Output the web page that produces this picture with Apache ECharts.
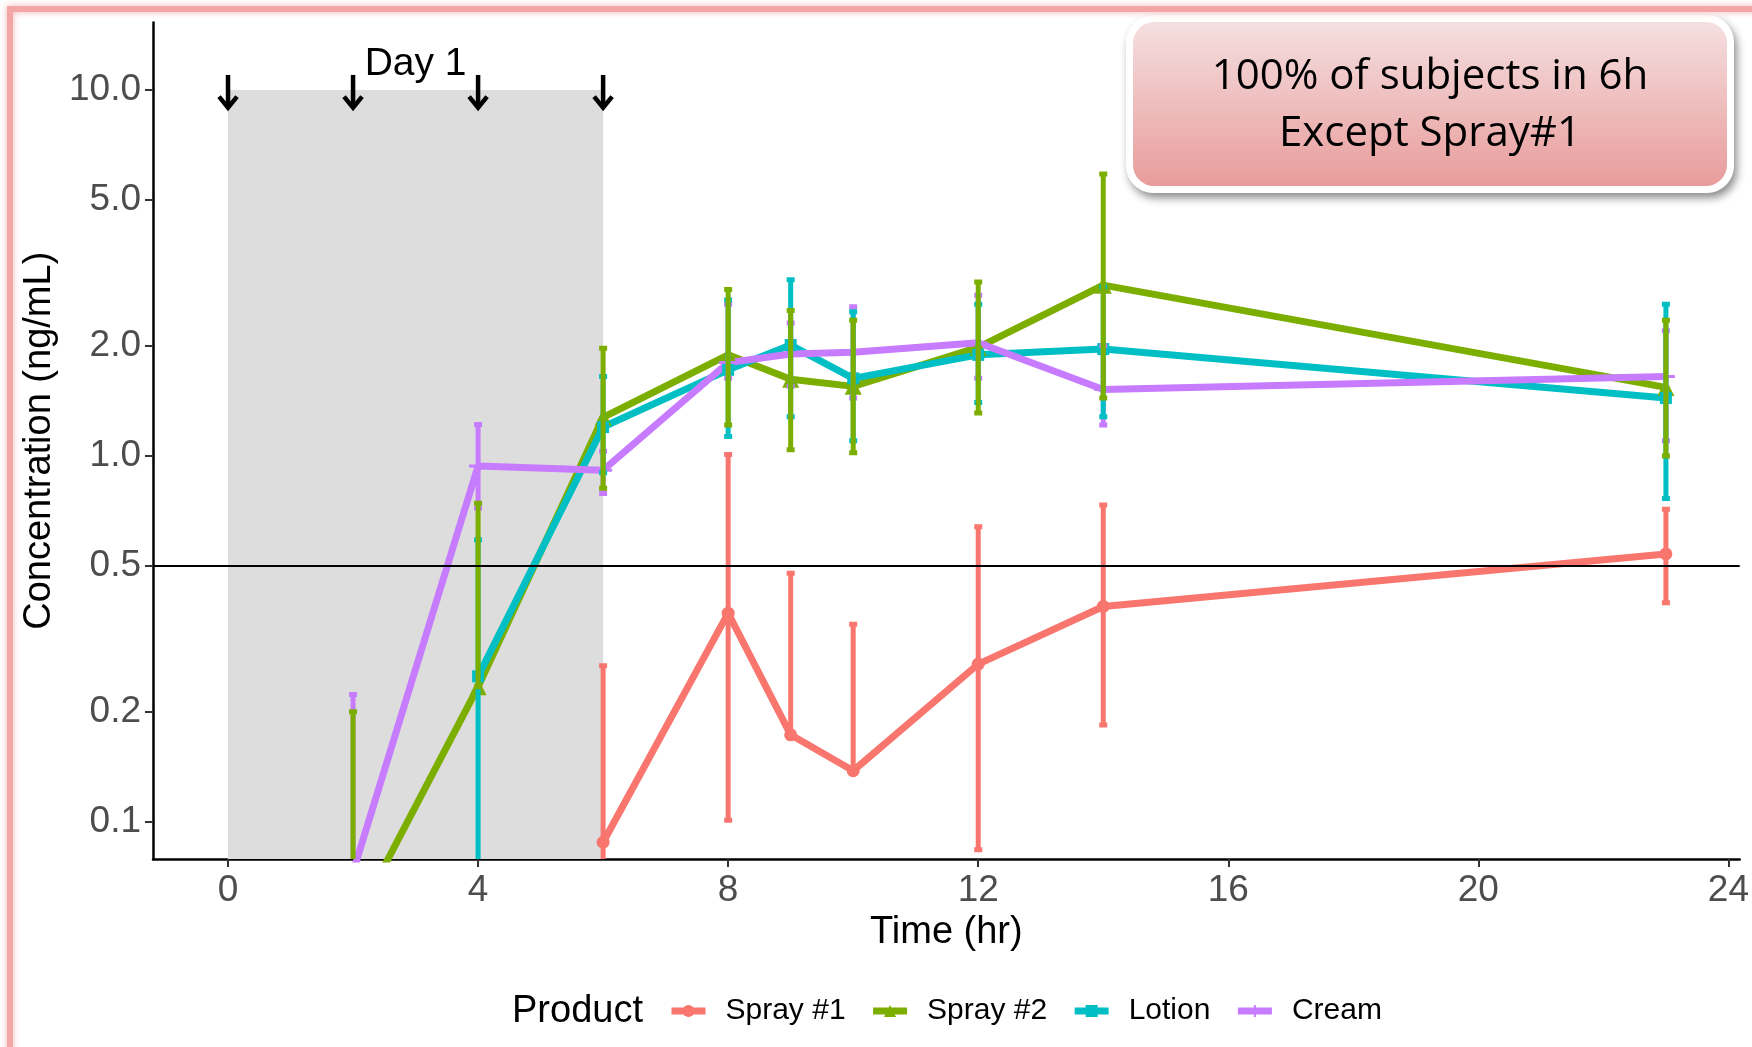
<!DOCTYPE html>
<html>
<head>
<meta charset="utf-8">
<script src="https://cdn.jsdelivr.net/npm/echarts@6/dist/echarts.min.js"></script>
<style>
  html, body { margin: 0; padding: 0; background: #ffffff; }
  #chart { width: 1752px; height: 1047px; }
</style>
</head>
<body>
<div id="chart"></div>
<script>
// Sampling times (hr)
const times = [2, 4, 6, 8, 9, 10, 12, 14, 23];

// Mean concentration (ng/mL) per product; null = not measured / not shown
const spray1Mean = [null, null, 0.088, 0.372, 0.173, 0.138, 0.27, 0.388, 0.54];
const spray2Mean = [0.052, 0.234, 1.276, 1.89, 1.62, 1.55, 1.98, 2.93, 1.54];
const lotionMean = [null, 0.25, 1.2, 1.72, 2.01, 1.63, 1.89, 1.96, 1.44];
const creamMean  = [0.073, 0.939, 0.915, 1.80, 1.90, 1.92, 2.04, 1.52, 1.65];

// Error bar limits (ng/mL); a null lower limit means the bar starts at the mean
const spray1Low  = [null, null, 0.04, 0.101, null, null, 0.084, 0.184, 0.397];
const spray1High = [null, null, 0.267, 1.01, 0.478, 0.347, 0.641, 0.735, 0.715];
const spray2Low  = [0.04, null, 0.816, 1.215, 1.04, 1.02, 1.31, 1.44, 1.0];
const spray2High = [0.2, 0.743, 1.97, 2.85, 2.5, 2.35, 2.99, 5.9, 2.35];
const lotionLow  = [null, 0.04, 0.9, 1.13, 1.28, 1.1, 1.4, 1.28, 0.766];
const lotionHigh = [null, 0.59, 1.65, 2.67, 3.03, 2.48, 2.6, 2.9, 2.6];
const creamLow   = [0.04, 0.72, 0.79, 1.63, 1.55, 1.44, 1.63, 1.215, 1.1];
const creamHigh  = [0.223, 1.22, 1.03, 2.6, 2.31, 2.56, 2.75, 2.0, 2.2];

// Axis ticks
const xTicks = [0, 4, 8, 12, 16, 20, 24];
const yTicks = [0.1, 0.2, 0.5, 1, 2, 5, 10];

// Reference level and dosing annotations
const refLevel = 0.5;
const dosingTimes = [0, 2, 4, 6];
const arrowFrom = 11.0;
const arrowTo = 8.9;
const dosingWindow = [0, 6];
const windowTop = 10;
const dayLabel = { x: 3, y: 11.8, text: 'Day 1' };

const products = ['Spray #1', 'Spray #2', 'Lotion', 'Cream'];
const colors = ['#F8766D', '#7CAE00', '#00BFC4', '#C77CFF'];
const plusPath = 'path://M5,0 L7,0 L7,5 L12,5 L12,7 L7,7 L7,12 L5,12 L5,7 L0,7 L0,5 L5,5 Z';
const symbols = ['circle', 'triangle', 'rect', plusPath];
const symbolSizes = [13, 17, 12, 18];

const means = [spray1Mean, spray2Mean, lotionMean, creamMean];
const lows = [spray1Low, spray2Low, lotionLow, creamLow];
const highs = [spray1High, spray2High, lotionHigh, creamHigh];

const yMin = 0.0792, yMax = 15.3;
const xMin = -1.2, xMax = 24.18;
const FONT = '"Liberation Sans", Arial, sans-serif';

function lineSeries(i) {
  return {
    name: products[i],
    type: 'line',
    z: 3,
    data: times.map((t, k) => [t, means[i][k]]),
    symbol: symbols[i],
    symbolSize: symbolSizes[i],
    showAllSymbol: true,
    connectNulls: false,
    clip: true,
    lineStyle: { color: colors[i], width: 7 },
    itemStyle: { color: colors[i] },
    emphasis: { disabled: true },
    animation: false
  };
}

function errorSeries(i) {
  const color = colors[i];
  return {
    name: products[i] + ' error',
    type: 'custom',
    z: 4,
    clip: true,
    silent: true,
    data: times.map((t, k) => [t, lows[i][k], highs[i][k], means[i][k]])
               .filter(d => d[2] != null),
    encode: { x: 0, y: 2 },
    renderItem: function (params, api) {
      const x = api.value(0);
      let lo = api.value(1);
      const hi = api.value(2);
      const mean = api.value(3);
      if (isNaN(lo)) lo = mean;
      const top = api.coord([x, hi]);
      const bot = api.coord([x, lo]);
      const style = { stroke: color, lineWidth: 5 };
      const cap = 4;
      return {
        type: 'group',
        children: [
          { type: 'line', shape: { x1: top[0], y1: top[1], x2: bot[0], y2: bot[1] }, style: style },
          { type: 'line', shape: { x1: top[0] - cap, y1: top[1], x2: top[0] + cap, y2: top[1] }, style: style },
          { type: 'line', shape: { x1: bot[0] - cap, y1: bot[1], x2: bot[0] + cap, y2: bot[1] }, style: style }
        ]
      };
    },
    animation: false
  };
}

const chart = echarts.init(document.getElementById('chart'), null, { renderer: 'canvas' });

const option = {
  animation: false,
  backgroundColor: '#ffffff',
  textStyle: { fontFamily: FONT },
  grid: { left: 153, right: 11, top: 22.5, bottom: 188, containLabel: false },
  xAxis: {
    type: 'value',
    min: xMin,
    max: xMax,
    name: 'Time (hr)',
    nameLocation: 'middle',
    nameGap: 51,
    nameTextStyle: { fontSize: 38, color: '#000000', fontFamily: FONT },
    axisLine: { show: true, onZero: false, lineStyle: { color: '#000000', width: 2.5 } },
    axisTick: { show: true, length: 8, customValues: xTicks, lineStyle: { color: '#333333', width: 2 } },
    axisLabel: { customValues: xTicks, fontSize: 37, color: '#4D4D4D', margin: 13, fontFamily: FONT },
    splitLine: { show: false }
  },
  yAxis: {
    type: 'log',
    logBase: 10,
    min: yMin,
    max: yMax,
    name: 'Concentration (ng/mL)',
    nameLocation: 'middle',
    nameRotate: 90,
    nameGap: 91,
    nameTextStyle: { fontSize: 38, color: '#000000', fontFamily: FONT },
    axisLine: { show: true, onZero: false, lineStyle: { color: '#000000', width: 2.5 } },
    axisTick: { show: true, length: 8, customValues: yTicks, lineStyle: { color: '#333333', width: 2 } },
    axisLabel: {
      customValues: yTicks,
      fontSize: 37,
      color: '#4D4D4D',
      margin: 12,
      fontFamily: FONT,
      formatter: v => Number(v).toFixed(1)
    },
    splitLine: { show: false },
    minorSplitLine: { show: false }
  },
  legend: {
    data: products,
    orient: 'horizontal',
    left: 663,
    top: 991,
    itemWidth: 34,
    itemHeight: 15,
    itemGap: 24,
    lineStyle: { width: 7 },
    textStyle: { fontSize: 30, color: '#000000', fontFamily: FONT, padding: [0, 0, 0, 15] },
    selectedMode: false
  },
  graphic: [
    // soft pink frame around the figure
    {
      type: 'rect',
      left: 7, top: 6,
      shape: { width: 1800, height: 1100 },
      style: { fill: 'none', stroke: '#F4A5A5', lineWidth: 6, shadowBlur: 7, shadowColor: '#F6B4B4' },
      silent: true, z: 100
    },
    // legend title
    {
      type: 'text',
      left: 512, top: 993,
      style: { text: 'Product', fontSize: 38, fill: '#000000', fontFamily: FONT },
      silent: true
    },
    // call-out box
    {
      type: 'group',
      left: 1126, top: 15,
      silent: true, z: 90,
      children: [
        {
          type: 'rect',
          shape: { x: 0, y: 0, width: 608, height: 178, r: 27 },
          style: { fill: '#ffffff', shadowBlur: 9, shadowOffsetX: 3, shadowOffsetY: 5, shadowColor: 'rgba(0,0,0,0.45)' }
        },
        {
          type: 'rect',
          shape: { x: 7, y: 7, width: 594, height: 164, r: 21 },
          style: {
            fill: new echarts.graphic.LinearGradient(0, 0, 0, 1, [
              { offset: 0, color: '#F5DFE0' },
              { offset: 1, color: '#E89C9B' }
            ])
          }
        },
        {
          type: 'text',
          x: 304, y: 62,
          style: { text: '100% of subjects in 6h', fontSize: 42, fill: '#000000', fontFamily: '"Open Sans", sans-serif', align: 'center', verticalAlign: 'middle' }
        },
        {
          type: 'text',
          x: 304, y: 119,
          style: { text: 'Except Spray#1', fontSize: 42, fill: '#000000', fontFamily: '"Open Sans", sans-serif', align: 'center', verticalAlign: 'middle' }
        }
      ]
    }
  ],
  series: [
    // shaded dosing window and reference level
    {
      name: 'background',
      type: 'line',
      z: 1,
      data: [],
      silent: true,
      markArea: {
        silent: true,
        itemStyle: { color: '#DDDDDD' },
        data: [[{ xAxis: dosingWindow[0], yAxis: yMin }, { xAxis: dosingWindow[1], yAxis: windowTop }]]
      },
      markLine: {
        silent: true,
        symbol: ['none', 'none'],
        label: { show: false },
        lineStyle: { color: '#000000', width: 2, type: 'solid' },
        data: [{ yAxis: refLevel }]
      }
    },
    lineSeries(0), lineSeries(1), lineSeries(2), lineSeries(3),
    errorSeries(3), errorSeries(2), errorSeries(0), errorSeries(1),
    // dosing arrows
    {
      name: 'dosing',
      type: 'custom',
      z: 5,
      silent: true,
      data: dosingTimes.map(t => [t, arrowFrom, arrowTo]),
      encode: { x: 0, y: 1 },
      renderItem: function (params, api) {
        const x = api.value(0);
        const a = api.coord([x, api.value(1)]);
        const b = api.coord([x, api.value(2)]);
        const style = { stroke: '#000000', lineWidth: 4.5, fill: 'none', lineJoin: 'miter' };
        return {
          type: 'group',
          children: [
            { type: 'line', shape: { x1: a[0], y1: a[1], x2: b[0], y2: b[1] - 2 }, style: style },
            { type: 'polyline', shape: { points: [[b[0] - 9, b[1] - 12], [b[0], b[1] - 1], [b[0] + 9, b[1] - 12]] }, style: style }
          ]
        };
      }
    },
    // dosing day label
    {
      name: 'day',
      type: 'custom',
      z: 5,
      silent: true,
      data: [[dayLabel.x, dayLabel.y]],
      encode: { x: 0, y: 1 },
      renderItem: function (params, api) {
        const p = api.coord([api.value(0), api.value(1)]);
        return {
          type: 'text',
          x: p[0], y: p[1],
          style: { text: dayLabel.text, fontSize: 39, fill: '#000000', fontFamily: FONT, align: 'center', verticalAlign: 'middle' }
        };
      }
    }
  ]
};

chart.setOption(option);
</script>
</body>
</html>
